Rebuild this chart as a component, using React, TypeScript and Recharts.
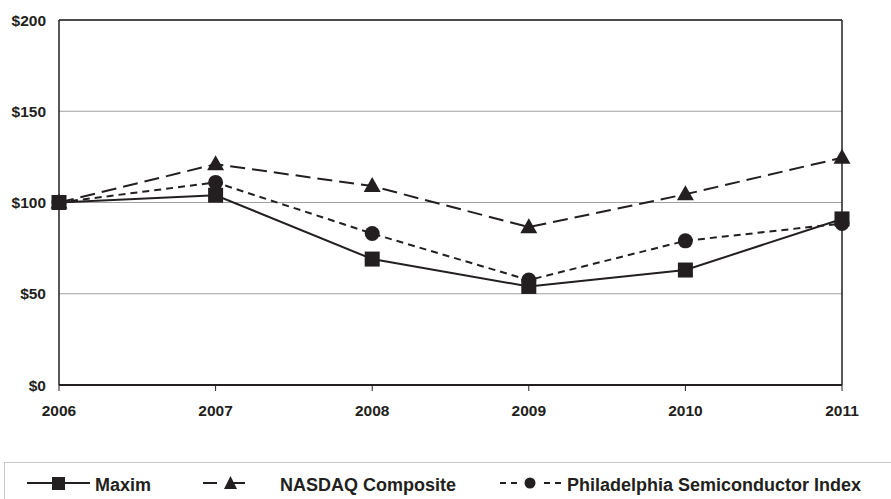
import { CartesianGrid, Legend, Line, LineChart, ReferenceLine, XAxis, YAxis } from "recharts";

const years = ["2006", "2007", "2008", "2009", "2010", "2011"];
const maxim = [100, 104, 69, 54, 63, 91];
const nasdaq = [100, 121, 109, 86.5, 104.5, 124.5];
const sox = [100, 111, 83, 57.5, 79, 88.5];
const yTicks = [0, 50, 100, 150, 200];

const data = years.map((year, i) => ({
  year,
  maxim: maxim[i],
  nasdaq: nasdaq[i],
  sox: sox[i],
}));

const INK = "#231f20";
const FONT = "'Liberation Sans', Arial, sans-serif";

const SquareDot = (props: any) => {
  const { cx, cy } = props;
  if (cx == null || cy == null) return null;
  return <rect x={cx - 7.5} y={cy - 7.5} width={15} height={15} fill={INK} />;
};

const TriangleDot = (props: any) => {
  const { cx, cy } = props;
  if (cx == null || cy == null) return null;
  return <polygon points={`${cx},${cy - 9} ${cx + 8.5},${cy + 6} ${cx - 8.5},${cy + 6}`} fill={INK} />;
};

const CircleDot = (props: any) => {
  const { cx, cy } = props;
  if (cx == null || cy == null) return null;
  return <circle cx={cx} cy={cy} r={7.5} fill={INK} />;
};

// legend box with its three entries
function LegendBox() {
  const label = (text: string, left: number) => (
    <span style={{ position: "absolute", left: left - 5, top: 0, lineHeight: "44px" }}>{text}</span>
  );
  return (
    <div
      style={{
        position: "relative",
        boxSizing: "border-box",
        width: 900,
        height: 37,
        marginLeft: 4,
        borderTop: "1px solid #c8c8c8",
        borderLeft: "1px solid #c8c8c8",
        fontFamily: FONT,
        fontWeight: "bold",
        fontSize: 18,
        color: INK,
      }}
    >
      <svg width={900} height={37} style={{ position: "absolute", left: -5, top: -1 }}>
        <line x1={27} y1={21} x2={90} y2={21} stroke={INK} strokeWidth={2} />
        <rect x={52} y={15} width={13} height={13} fill={INK} />
        <line x1={203} y1={21} x2={258} y2={21} stroke={INK} strokeWidth={2} strokeDasharray="14 14" />
        <polygon points="230.5,14 237,27 224,27" fill={INK} />
        <line x1={500} y1={21} x2={562} y2={21} stroke={INK} strokeWidth={2} strokeDasharray="6 5" />
        <rect x={520} y={16} width={20} height={10} fill="#fff" />
        <circle cx={530} cy={21} r={5.5} fill={INK} />
      </svg>
      {label("Maxim", 95)}
      {label("NASDAQ Composite", 280)}
      {label("Philadelphia Semiconductor Index", 567)}
    </div>
  );
}

export default function App() {
  return (
    <div style={{ position: "absolute", left: 0, top: 0, width: 891, height: 499, overflow: "hidden", background: "#fff" }}>
      <LineChart width={891} height={499} data={data} margin={{ top: 20, right: 49, left: 0, bottom: 0 }}>
        <CartesianGrid horizontal vertical={false} stroke="#a0a0a0" strokeWidth={1} />
        <XAxis
          dataKey="year"
          height={77}
          axisLine={{ stroke: INK, strokeWidth: 2 }}
          tickLine={{ stroke: INK }}
          tickSize={6}
          tickMargin={14}
          tick={{ fill: INK, fontFamily: FONT, fontWeight: "bold", fontSize: 15.5 }}
        />
        <YAxis
          width={59}
          domain={[0, 200]}
          ticks={yTicks}
          tickFormatter={(v: number) => `$${v}`}
          axisLine={{ stroke: INK, strokeWidth: 1.5 }}
          tickLine={false}
          tickMargin={7}
          tick={{ fill: INK, fontFamily: FONT, fontWeight: "bold", fontSize: 15.5 }}
        />
        <ReferenceLine y={200} stroke={INK} strokeWidth={1.5} />
        <ReferenceLine x="2011" stroke={INK} strokeWidth={1.5} />
        <Line
          dataKey="nasdaq"
          stroke={INK}
          strokeWidth={2}
          strokeDasharray="15 7"
          dot={<TriangleDot />}
          activeDot={false}
          isAnimationActive={false}
        />
        <Line
          dataKey="sox"
          stroke={INK}
          strokeWidth={2}
          strokeDasharray="7 5"
          dot={<CircleDot />}
          activeDot={false}
          isAnimationActive={false}
        />
        <Line
          dataKey="maxim"
          stroke={INK}
          strokeWidth={2}
          dot={<SquareDot />}
          activeDot={false}
          isAnimationActive={false}
        />
        <Legend verticalAlign="bottom" align="left" content={() => <LegendBox />} wrapperStyle={{ left: 0 }} />
      </LineChart>
    </div>
  );
}
